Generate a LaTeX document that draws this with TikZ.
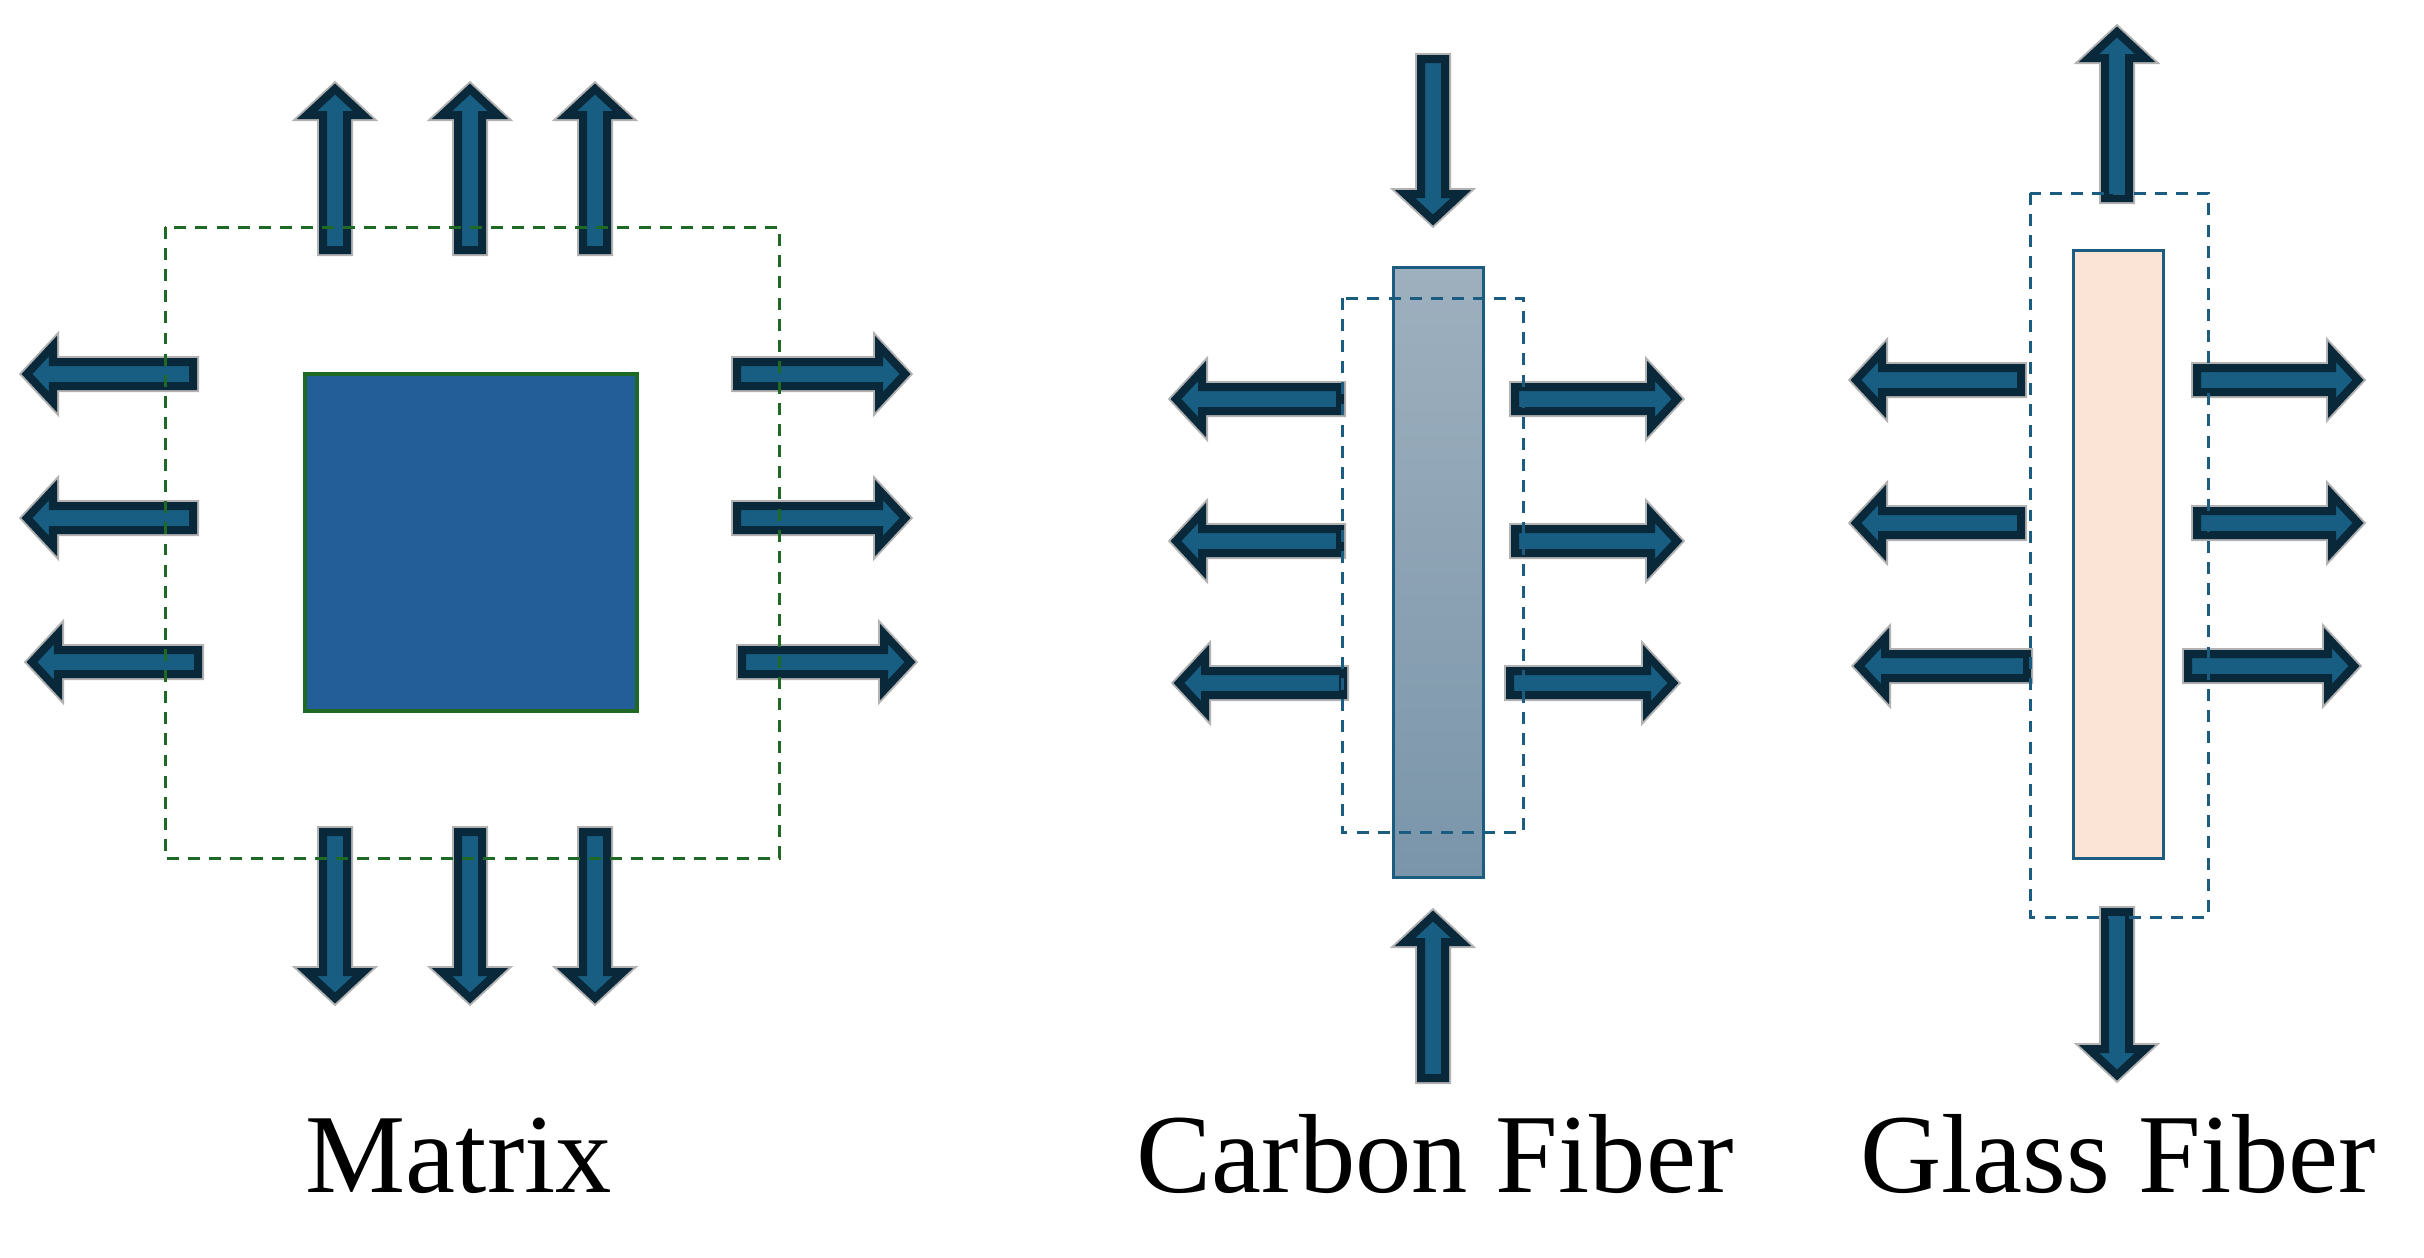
\documentclass[tikz,border=0pt]{standalone}
\usepackage{fontspec}
\setmainfont{Liberation Serif}
\usepackage{tikz}
\usepackage{xcolor}

\definecolor{arrowfill}{RGB}{24,94,130}
\definecolor{arrowedge}{RGB}{9,40,58}
\definecolor{matrixblue}{RGB}{35,94,152}
\definecolor{matrixgreen}{RGB}{30,105,35}
\definecolor{fiberedge}{RGB}{28,92,128}
\definecolor{carbontop}{RGB}{158,176,190}
\definecolor{carbonbot}{RGB}{122,149,170}
\definecolor{glasspeach}{RGB}{251,227,214}

\tikzset{
  arrowhalo/.style={draw=black!30,line width=0.12cm,line join=miter},
  arrowbody/.style={draw=arrowedge,fill=arrowfill,line width=0.08cm,line join=miter},
  pics/stressarrow/.style={code={
    \draw[arrowhalo] (0,-12) -- (#1-30,-12) -- (#1-30,-28) -- (#1-4,0) -- (#1-30,28) -- (#1-30,12) -- (0,12) -- cycle;
    \draw[arrowbody] (0,-12) -- (#1-30,-12) -- (#1-30,-28) -- (#1-4,0) -- (#1-30,28) -- (#1-30,12) -- (0,12) -- cycle;
  }},
  limitbox/.style={line width=0.03cm,dash pattern=on 3.4pt off 2.6pt},
  label/.style={anchor=base,font=\fontsize{32}{38}\selectfont}
}

\begin{document}
\begin{tikzpicture}[x=0.01cm,y=-0.01cm]
\useasboundingbox (0,0) rectangle (2424,1257);
% matrix
\fill[matrixblue] (305,374) rectangle (637,711);
\draw[matrixgreen,line width=0.04cm] (305,374) rectangle (637,711);
\pic[rotate=90] at (335,250) {stressarrow=165};
\pic[rotate=90] at (470,250) {stressarrow=165};
\pic[rotate=90] at (595,250) {stressarrow=165};
\pic[rotate=-90] at (335,832) {stressarrow=170};
\pic[rotate=-90] at (470,832) {stressarrow=170};
\pic[rotate=-90] at (595,832) {stressarrow=170};
\pic[rotate=180] at (193,374) {stressarrow=170};
\pic[rotate=180] at (193,518) {stressarrow=170};
\pic[rotate=180] at (198,662) {stressarrow=170};
\pic at (737,374) {stressarrow=172};
\pic at (737,518) {stressarrow=172};
\pic at (742,662) {stressarrow=172};
\draw[matrixgreen,limitbox] (165,227) rectangle (779,858);
\node[label] (matrixlabel) at (459,1192) {Matrix};
% carbon fiber
\shade[top color=carbontop,bottom color=carbonbot] (1393,267) rectangle (1483,877);
\draw[fiberedge,line width=0.03cm] (1393,267) rectangle (1483,877);
\pic[rotate=-90] at (1433,59) {stressarrow=165};
\pic[rotate=90] at (1433,1078) {stressarrow=166};
\pic[rotate=180] at (1340,399) {stressarrow=168};
\pic[rotate=180] at (1340,541) {stressarrow=168};
\pic[rotate=180] at (1343,683) {stressarrow=168};
\pic at (1515,399) {stressarrow=166};
\pic at (1515,541) {stressarrow=166};
\pic at (1510,683) {stressarrow=167};
\draw[fiberedge,limitbox] (1342,298) rectangle (1523,832);
\node[label] (carbonlabel) at (1435,1192) {Carbon Fiber};
% glass fiber
\fill[glasspeach] (2073,250) rectangle (2163,858);
\draw[fiberedge,line width=0.03cm] (2073,250) rectangle (2163,858);
\pic[rotate=90] at (2117,198) {stressarrow=170};
\pic[rotate=-90] at (2117,912) {stressarrow=167};
\pic[rotate=180] at (2021,380) {stressarrow=169};
\pic[rotate=180] at (2021,523) {stressarrow=169};
\pic[rotate=180] at (2027,666) {stressarrow=172};
\pic at (2197,380) {stressarrow=165};
\pic at (2197,523) {stressarrow=165};
\pic at (2188,666) {stressarrow=170};
\draw[fiberedge,limitbox] (2030,193) rectangle (2208,917);
\node[label] (glasslabel) at (2118,1192) {Glass Fiber};
\end{tikzpicture}
\end{document}
